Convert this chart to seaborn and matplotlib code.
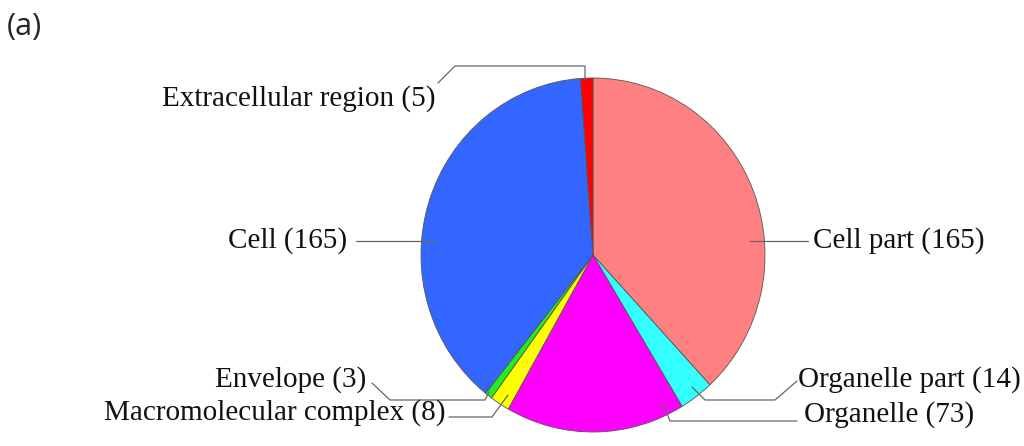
import matplotlib
matplotlib.use("Agg")
import matplotlib.pyplot as plt
import seaborn as sns
import pandas as pd

# GO cellular component counts, clockwise from 12 o'clock
categories = ["Cell part", "Organelle part", "Organelle", "Macromolecular complex",
              "Envelope", "Cell", "Extracellular region"]
counts = [165, 14, 73, 8, 3, 165, 5]
colors = ["#ff8080", "#33ffff", "#ff00ff", "#ffff00", "#22ee22", "#3366ff", "#ff0000"]

df = pd.DataFrame({"category": categories, "count": counts, "color": colors})

sns.set_theme(style="white")
plt.rcParams["font.family"] = ["Liberation Serif", "DejaVu Serif"]

W, H = 1024, 446
CX, CY, RX, RY = 593, 255, 172, 177   # pie centre / radius in pixels


def px(x, y):
    """pixel position -> pie data coordinates"""
    return (x - CX) / RX, (CY - y) / RY


fig = plt.figure(figsize=(W / 100, H / 100), dpi=100)
ax = fig.add_axes([0, 0, 1, 1])
ax.pie(df["count"], colors=df["color"], startangle=90, counterclock=False,
       wedgeprops=dict(edgecolor="#555555", linewidth=0.6))
ax.set_aspect("auto")
ax.set_xlim(-CX / RX, (W - CX) / RX)
ax.set_ylim(-(H - CY) / RY, CY / RY)
ax.axis("off")

# leader lines (pixel paths) and label anchors
leaders = {
    "Cell part": ([(750, 241), (808, 241)], (813, 241), "left"),
    "Organelle part": ([(692, 387), (705, 400), (775, 400), (797, 381)], (798, 380), "left"),
    "Organelle": ([(663, 404), (670, 421), (797, 421)], (804, 415), "left"),
    "Macromolecular complex": ([(508, 395), (492, 417), (449, 417)], (445, 413), "right"),
    "Envelope": ([(489, 392), (485, 400), (390, 400), (372, 383)], (366, 380), "right"),
    "Cell": ([(435, 241), (356, 241)], (347, 241), "right"),
    "Extracellular region": ([(585, 80), (585, 66), (455, 66), (438, 83)], (436, 99), "right"),
}

for cat, n in zip(df["category"], df["count"]):
    path, (tx, ty), ha = leaders[cat]
    xs, ys = zip(*[px(x, y) for x, y in path])
    ax.plot(xs, ys, color="#666666", lw=0.9)
    lx, ly = px(tx, ty)
    ax.text(lx, ly, f"{cat} ({n})", ha=ha, va="center", fontsize=21, color="#111111")

fig.text(7 / W, 1 - 27 / H, "(a)", fontsize=22, family=["Open Sans", "DejaVu Sans"],
         va="center", ha="left")

fig.savefig("out.png", dpi=100)
